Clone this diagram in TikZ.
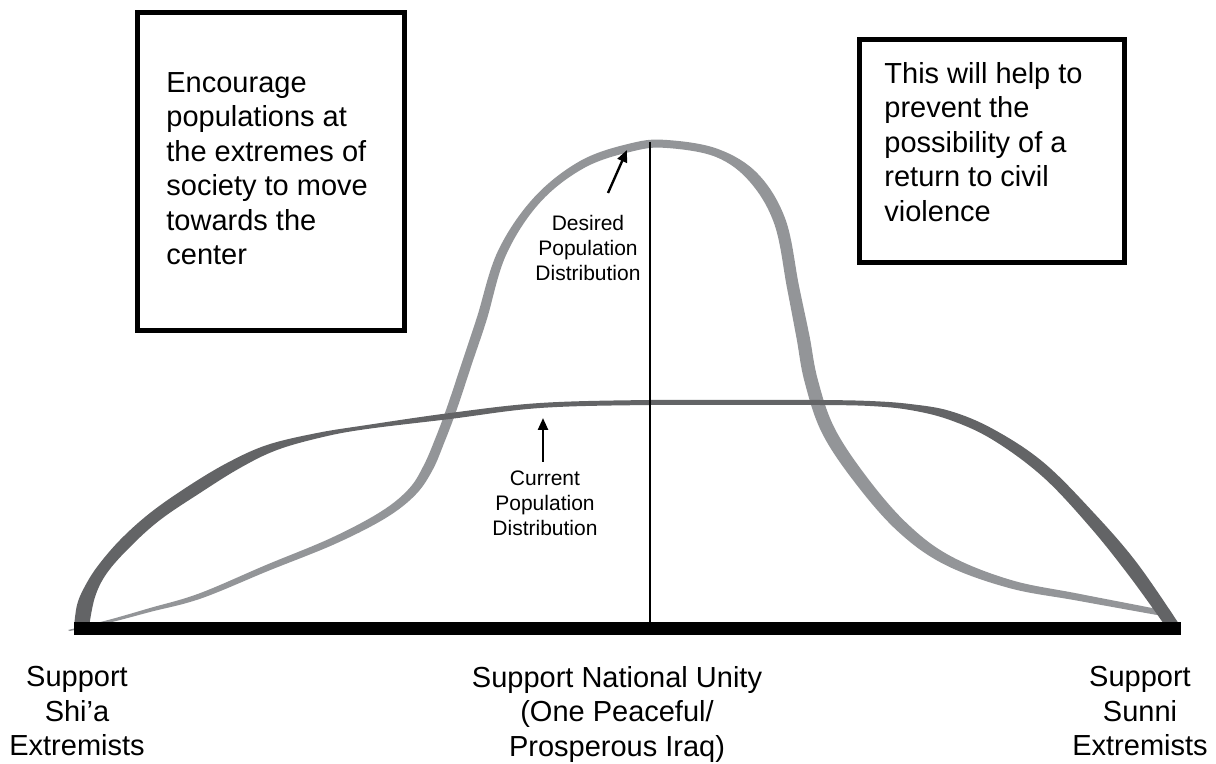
\documentclass[tikz,border=0pt]{standalone}
\usepackage{fontspec}
\setmainfont{Liberation Sans}
\usetikzlibrary{arrows.meta}
\definecolor{curgray}{RGB}{99,100,102}
\definecolor{desgray}{RGB}{147,149,152}

\begin{document}
\begin{tikzpicture}[x=.5pt,y=-.5pt,
	boxtxt/.style={anchor=north west,inner sep=0,align=left,font=\fontsize{14.5}{17.25}\selectfont},
	axtxt/.style={anchor=north,inner sep=0,align=center,font=\fontsize{14.5}{17.25}\selectfont},
	disttxt/.style={anchor=north,inner sep=0,align=center,font=\fontsize{10.5}{12.5}\selectfont},
	frame/.style={line width=2.5pt},
	pointer/.style={line width=1.2pt,-{Triangle[length=6pt,width=5pt]}}]
	\useasboundingbox (0,0) rectangle (1216,764);
	\fill[desgray] plot[smooth,tension=.6] coordinates {(68,630) (110,619.5) (150,608) (199,593.5) (266,565) (331.5,537.8) (380.9,511.6) (408.8,488.9) (423.6,465.6) (435.4,438.2) (447.3,406.3) (463.3,358.4) (477.2,316.5) (497.9,251.1) (534,197.5) (581,160.5) (632,143) (667,140) (718,149) (758,174) (785.5,219.5) (799,286) (809.5,336) (817.5,378.5) (834,427) (866,476) (906,522.5) (949.5,555.5) (1011,580) (1077.5,593.5) (1157,609) (1168,612)}
		-- plot[smooth,tension=.6] coordinates {(1157,615) (1076.5,600.5) (1009,588) (944.5,564.5) (898,531.5) (856,484) (822,433) (804.5,381.5) (796.5,338) (787,288) (774.5,224.5) (750,182) (716,157) (667,148) (634,151) (585,167.5) (540,202.5) (506.1,254.9) (486.8,319.5) (472.7,361.6) (456.7,409.7) (444.6,441.8) (432.4,470.4) (415.2,495.1) (385.1,518.4) (334.5,544.2) (268,571) (201,598.5) (150,612) (110,622.5) (70,631)} -- cycle;
	\fill[curgray] plot[smooth,tension=.6] coordinates {(74,627) (77,605) (84,588) (97,567) (120,540) (150,513) (187,487) (227,463) (267,445) (317,433) (367,425) (450,413) (540,403) (650,400) (760,400) (820,400) (870,401) (910,404) (950,411) (993,429) (1043,462) (1093,512) (1137,563) (1181,627)}
		-- plot[smooth,tension=.6] coordinates {(1166,627) (1130,577) (1090,527) (1043,477) (993,440) (950,420) (910,410) (870,406) (820,405) (760,405) (650,405) (540,408) (450,419) (367,429) (323,437) (277,450) (240,468) (200,493) (160,520) (130,547) (107,573) (95,597) (89,627)} -- cycle;
	\draw[line width=1pt] (650,142)--(650,628);
	\fill (74,622) rectangle (1181,635);
	\draw[frame] (137.5,12.5)--(404.5,12.5)--(404.5,330.5)--(137.5,330.5)--cycle;
	\draw[frame] (859.5,39.5)--(1124.5,39.5)--(1124.5,262.5)--(859.5,262.5)--cycle;
	\node[boxtxt] (enc) at (166,72) {Encourage\\populations at\\the extremes of\\society to move\\towards the\\center};
	\node[boxtxt] (prev) at (884,62) {This will help to\\prevent the\\possibility of a\\return to civil\\violence};
	\node[disttxt] (desired) at (588,215) {Desired\\Population\\Distribution};
	\node[disttxt] (current) at (545,470) {Current\\Population\\Distribution};
	\coordinate (desiredtip) at (627,150);
	\coordinate (desiredtail) at (608,193);
	\coordinate (currenttip) at (543,418);
	\coordinate (currenttail) at (543,462);
	\draw[pointer] (desiredtail)--(desiredtip);
	\draw[pointer] (currenttail)--(currenttip);
	\node[axtxt] (shia) at (77,666) {Support\\Shi’a\\Extremists};
	\node[axtxt] (unity) at (617,666) {Support National Unity\\(One Peaceful/\\Prosperous Iraq)};
	\node[axtxt] (sunni) at (1140,666) {Support\\Sunni\\Extremists};
\end{tikzpicture}
\end{document}
